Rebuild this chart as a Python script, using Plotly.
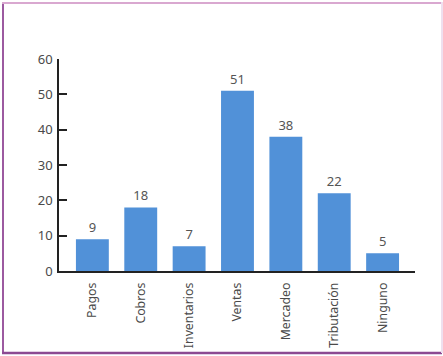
import plotly.graph_objects as go

categories = ["Pagos", "Cobros", "Inventarios", "Ventas", "Mercadeo", "Tributación", "Ninguno"]
values = [9, 18, 7, 51, 38, 22, 5]
y_ticks = [0, 10, 20, 30, 40, 50, 60]

W, H = 443, 356
L, R, T, B = 59, 415, 59, 271
pw, ph = R - L, B - T

def px(x):
    return (x - L) / pw

def py(y):
    return (B - y) / ph

fig = go.Figure(go.Bar(
    x=categories, y=values,
    marker=dict(color="#5191d8", line=dict(width=0)),
    text=[str(v) for v in values], textposition="outside",
    textfont=dict(color="#555555", size=13, family="Noto Sans"),
    cliponaxis=False, width=0.68,
))

fig.update_layout(
    width=W, height=H,
    margin=dict(l=L, r=W - R, t=T, b=H - B, autoexpand=False),
    paper_bgcolor="white", plot_bgcolor="white",
    showlegend=False,
    font=dict(family="Noto Sans", color="#4a4a4a", size=13),
    xaxis=dict(range=[-0.69, 6.67], showgrid=False, showline=True, linecolor="#222222",
               linewidth=1.5, ticks="", tickangle=-90, ticklabelstandoff=5, automargin=False,
               tickfont=dict(size=12.3, color="#4a4a4a")),
    yaxis=dict(range=[0, 60], tickvals=y_ticks, showgrid=False, showline=True, linecolor="#222222",
               linewidth=1.5, ticks="inside", ticklen=8, tickcolor="#222222", tickwidth=1.5,
               ticklabelstandoff=2, automargin=False,
               zeroline=False, tickfont=dict(size=13, color="#4a4a4a")),
    shapes=[
        dict(type="line", xref="paper", yref="paper", x0=px(3), x1=px(3), y0=py(2), y1=py(353),
             line=dict(color="#9c5aa0", width=2)),
        dict(type="line", xref="paper", yref="paper", x0=px(2), x1=px(442), y0=py(353), y1=py(353),
             line=dict(color="#8c4a92", width=2.5)),
        dict(type="line", xref="paper", yref="paper", x0=px(2), x1=px(442), y0=py(3), y1=py(3),
             line=dict(color="#d9a8d0", width=2)),
        dict(type="line", xref="paper", yref="paper", x0=px(442), x1=px(442), y0=py(2), y1=py(353),
             line=dict(color="#efe0ef", width=2)),
    ],
)

fig.write_html("out.html")
